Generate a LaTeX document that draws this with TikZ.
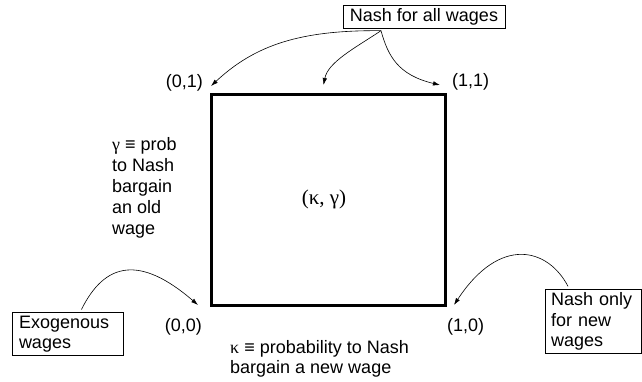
\documentclass[tikz,border=0pt]{standalone}
\usepackage{fontspec}
\setmainfont{Liberation Sans}
\newfontfamily\grk{Liberation Serif}
\usetikzlibrary{arrows.meta,positioning}

\begin{document}
\begin{tikzpicture}[x=1pt,y=-1pt,
 lbl/.style={font=\fontsize{18}{21}\selectfont,inner sep=0pt,align=left},
 note/.style={draw,line width=0.6pt,font=\fontsize{18}{20.5}\selectfont,align=left,inner xsep=7pt,inner ysep=3pt},
 frame/.style={draw,line width=3pt,minimum width=234pt,minimum height=211pt,inner sep=0pt,font=\grk\fontsize{21}{24}\selectfont},
 pointer/.style={-{Latex[length=7pt,width=4.5pt]},line width=0.6pt}
]
\useasboundingbox (0,0) rectangle (642,381);
% unit square
\node[frame] (sq) at (328.5,200) {};
\node[lbl,font=\grk\fontsize{21}{24}\selectfont] (kg) at (324,199) {(κ, γ)};
% corners
\node[lbl,anchor=east] (c01) at (203,83) {(0,1)};
\node[lbl,anchor=west] (c11) at (452,82) {(1,1)};
\node[lbl,anchor=east] (c00) at (202,327) {(0,0)};
\node[lbl,anchor=west] (c10) at (447,327) {(1,0)};
% axis texts
\node[lbl,anchor=north west] (gam) at (112,137) {{\grk γ} ≡ prob\\to Nash\\bargain\\an old\\wage};
\node[lbl,anchor=north west,font=\fontsize{18}{20}\selectfont] (kap) at (230,340) {{\grk κ} ≡ probability to Nash\\bargain a new wage};
% boxes
\node[note] (allw) at (424,17) {Nash for all wages};
\node[note,text width=97pt,inner xsep=7pt] (exo) at (67.5,334) {Exogenous\\wages};
\node[note,text width=84pt,inner xsep=6pt] (onlyn) at (593,321.5) {Nash only\\for new\\wages};
% arrows
\coordinate (s) at ([xshift=-43pt,yshift=-2pt]allw.south);
\coordinate (t01) at ([xshift=1pt,yshift=7pt]sq.north west);
\coordinate (tmid) at ([xshift=-5pt,yshift=8pt]sq.north);
\coordinate (t11) at ([xshift=-7pt,yshift=8pt]sq.north east);
\draw[pointer] (s) .. controls (300,30) and (255,45) .. (t01);
\draw[pointer] (s) .. controls (355,48) and (328,62) .. (tmid);
\draw[pointer] (s) .. controls (388,56) and (398,75) .. (t11);
\draw[pointer] ([xshift=14pt,yshift=3pt]exo.north) .. controls (105,262) and (140,255) .. ([xshift=-12pt,yshift=2pt]sq.south west);
\draw[pointer] ([xshift=-25pt,yshift=3pt]onlyn.north) .. controls (548,248) and (500,235) .. ([xshift=7pt,yshift=2pt]sq.south east);
\end{tikzpicture}
\end{document}
